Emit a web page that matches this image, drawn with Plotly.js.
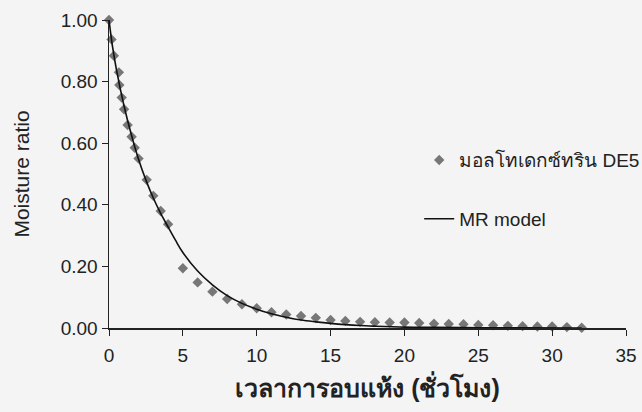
<!DOCTYPE html>
<html>
<head>
<meta charset="utf-8">
<script src="https://cdn.plot.ly/plotly-3.0.1.min.js"></script>
<style>html,body{margin:0;padding:0;background:#f4f4f4;}#chart{width:642px;height:412px;}</style>
</head>
<body>
<div id="chart"></div>
<script>
var obsTime = [0, 0.17, 0.33, 0.67, 0.7, 0.86, 1.02, 1.26, 1.53, 1.74, 2.0, 2.55, 3.0, 3.5, 4.0, 5.0, 6.0, 7.0, 8.0, 9.0, 10.0, 11.0, 12.0, 13.0, 14.0, 15.0, 16.0, 17.0, 18.0, 19.0, 20.0, 21.0, 22.0, 23.0, 24.0, 25.0, 26.0, 27.0, 28.0, 29.0, 30.0, 31.0, 32.0];
var obsMR = [1.00, 0.937, 0.884, 0.830, 0.789, 0.748, 0.710, 0.659, 0.621, 0.585, 0.550, 0.481, 0.429, 0.380, 0.337, 0.194, 0.148, 0.118, 0.094, 0.077, 0.064, 0.051, 0.044, 0.039, 0.033, 0.026, 0.023, 0.020, 0.019, 0.018, 0.018, 0.016, 0.014, 0.013, 0.012, 0.010, 0.009, 0.007, 0.006, 0.005, 0.005, 0.003, 0.001];
// Model curve
var modelTime = [0, 0.25, 0.5, 1, 1.5, 2, 2.5, 3, 3.5, 4, 4.5, 5, 6, 7, 8, 9, 10, 11, 12, 13, 14, 15, 16, 17, 18, 20, 22, 25, 28, 32];
var modelMR = [1.00, 0.91, 0.84, 0.725, 0.63, 0.548, 0.48, 0.422, 0.372, 0.328, 0.285, 0.245, 0.185, 0.140, 0.105, 0.080, 0.061, 0.046, 0.035, 0.026, 0.020, 0.015, 0.011, 0.008, 0.006, 0.003, 0.002, 0.001, 0.0005, 0.0];
var xTicks = [0, 5, 10, 15, 20, 25, 30, 35];
var yTicks = [0, 0.2, 0.4, 0.6, 0.8, 1.0];
var seriesNames = ["มอลโทเดกซ์ทริน DE5", "MR model"];
var xTitle = "เวลาการอบแห้ง (ชั่วโมง)";
var yTitle = "Moisture ratio";

var font = "Liberation Sans, Arial, sans-serif";
var traces = [
  {x: obsTime, y: obsMR, mode: "markers", type: "scatter", name: seriesNames[0],
   marker: {symbol: "diamond", size: 8, color: "#777777"}, legend: "legend", cliponaxis: false},
  {x: modelTime, y: modelMR, mode: "lines", type: "scatter", name: seriesNames[1],
   line: {color: "#111", width: 1.6, shape: "spline"}, legend: "legend2"}
];
var layout = {
  width: 642, height: 412,
  margin: {l: 109, r: 16, t: 20, b: 84, autoexpand: false},
  paper_bgcolor: "#f4f4f4", plot_bgcolor: "#f4f4f4",
  font: {family: font, size: 19, color: "#222"},
  xaxis: {range: [0, 35], tickvals: xTicks, ticks: "outside", ticklen: 6, tickcolor: "#222",
          ticklabelstandoff: 4,
          showline: true, linecolor: "#222", linewidth: 1.5, showgrid: false, zeroline: false,
          title: {text: xTitle, font: {size: 25, family: font, weight: "bold"}, standoff: 14}},
  yaxis: {range: [0, 1], tickvals: yTicks, tickformat: ".2f", ticksuffix: "\u00a0\u200a", ticks: "outside", ticklen: 6, tickcolor: "#222",
          showline: true, linecolor: "#222", linewidth: 1.5, showgrid: false, zeroline: false,
          title: {text: yTitle, font: {size: 21, family: font}, standoff: 25}},
  legend: {x: 0.6, y: 0.545, xanchor: "left", yanchor: "middle", bgcolor: "rgba(0,0,0,0)",
           font: {size: 19}, itemwidth: 30},
  legend2: {x: 0.6, y: 0.354, xanchor: "left", yanchor: "middle", bgcolor: "rgba(0,0,0,0)",
           font: {size: 19}, itemwidth: 30},
  showlegend: true
};
Plotly.newPlot("chart", traces, layout, {displayModeBar: false, staticPlot: true});
</script>
</body>
</html>
